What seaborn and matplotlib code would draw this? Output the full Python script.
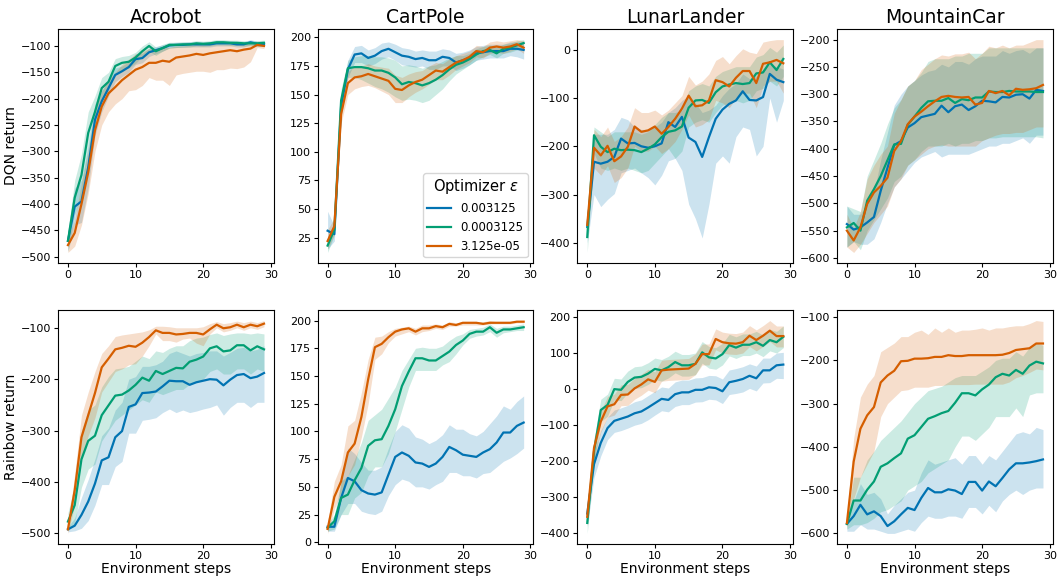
import pandas as pd
import matplotlib
matplotlib.use("Agg")
import matplotlib.pyplot as plt
import seaborn as sns
from matplotlib.ticker import MultipleLocator

steps = list(range(30))
eps_labels = ["0.003125", "0.0003125", "3.125e-05"]
envs = ["Acrobot", "CartPole", "LunarLander", "MountainCar"]
agents = ["DQN", "Rainbow"]

# ---- DQN ----
acro_dqn_a = [-470,-405,-395,-330,-240,-205,-180,-155,-148,-140,-125,-123,-112,-108,-104,-99,-98,-98,-97,-97,-97,-97,-95,-95,-95,-97,-97,-93,-96,-96]
acro_dqn_a_lo = [-490,-440,-435,-370,-270,-225,-195,-168,-158,-150,-135,-132,-120,-115,-110,-104,-103,-103,-102,-102,-102,-102,-100,-100,-100,-102,-102,-98,-101,-101]
acro_dqn_a_hi = [-450,-370,-355,-290,-210,-185,-165,-142,-138,-130,-115,-114,-104,-101,-98,-94,-93,-93,-92,-92,-92,-92,-90,-90,-90,-92,-92,-88,-91,-91]
acro_dqn_b = [-470,-388,-345,-265,-225,-180,-168,-138,-132,-130,-122,-110,-100,-110,-104,-98,-98,-97,-97,-95,-96,-95,-93,-93,-94,-94,-95,-95,-95,-94]
acro_dqn_b_lo = [-490,-420,-385,-300,-255,-200,-185,-152,-145,-142,-133,-120,-110,-118,-110,-104,-103,-102,-102,-100,-101,-100,-98,-98,-99,-99,-100,-100,-100,-99]
acro_dqn_b_hi = [-450,-355,-305,-225,-195,-160,-150,-124,-120,-118,-112,-100,-92,-102,-97,-93,-93,-92,-92,-90,-91,-90,-88,-88,-89,-89,-90,-90,-90,-89]
acro_dqn_c = [-478,-455,-400,-340,-260,-215,-190,-178,-165,-155,-145,-140,-132,-132,-128,-130,-122,-120,-118,-115,-117,-114,-112,-110,-108,-110,-107,-105,-98,-100]
acro_dqn_c_lo = [-492,-480,-440,-380,-300,-250,-225,-210,-200,-185,-183,-175,-160,-165,-165,-175,-155,-152,-150,-148,-148,-150,-145,-145,-142,-143,-140,-130,-103,-105]
acro_dqn_c_hi = [-464,-430,-360,-300,-225,-185,-165,-150,-135,-125,-115,-110,-105,-105,-102,-103,-100,-100,-98,-97,-97,-97,-96,-96,-96,-96,-95,-93,-93,-95]

cart_dqn_a = [31,28,140,172,185,186,182,184,188,190,187,184,183,181,182,180,180,183,182,178,180,182,186,187,188,188,188,190,190,189]
cart_dqn_a_lo = [15,22,130,165,178,178,175,177,181,183,180,176,175,174,175,172,172,175,175,171,173,176,180,181,182,182,182,184,183,181]
cart_dqn_a_hi = [48,35,150,180,192,193,189,191,195,196,194,191,190,188,189,188,188,190,189,186,187,189,192,193,194,194,194,196,196,196]
cart_dqn_b = [18,32,145,173,174,174,173,171,171,169,165,159,161,160,158,160,163,167,172,176,178,181,185,188,189,186,190,191,193,195]
cart_dqn_b_lo = [12,27,135,165,165,163,160,157,155,152,148,145,146,145,143,145,150,155,162,168,172,176,180,183,185,182,186,187,189,191]
cart_dqn_b_hi = [25,37,155,180,183,184,184,183,183,182,180,175,176,175,173,175,176,179,182,184,184,186,190,192,193,191,194,195,197,198]
cart_dqn_c = [22,35,133,160,165,166,168,166,164,162,155,154,158,161,163,167,171,170,174,178,180,183,188,187,191,192,191,192,194,191]
cart_dqn_c_lo = [15,28,125,150,155,157,158,156,153,150,143,143,148,152,155,159,163,163,167,172,175,178,183,182,186,187,186,188,190,186]
cart_dqn_c_hi = [32,42,140,170,175,175,177,175,174,173,167,165,168,170,171,175,178,177,181,184,186,188,193,192,196,197,196,197,198,197]

lunar_dqn_a = [-367,-232,-236,-232,-222,-184,-194,-193,-200,-203,-200,-194,-150,-160,-139,-182,-191,-222,-181,-143,-124,-112,-105,-86,-104,-105,-98,-50,-62,-67]
lunar_dqn_a_lo = [-400,-300,-325,-310,-298,-255,-250,-245,-255,-265,-280,-260,-230,-225,-250,-320,-350,-390,-320,-235,-220,-235,-180,-160,-165,-220,-200,-100,-150,-105]
lunar_dqn_a_hi = [-350,-175,-175,-175,-165,-140,-145,-160,-165,-165,-160,-150,-130,-120,-105,-95,-110,-130,-125,-115,-95,-80,-70,-50,-60,-55,-40,-30,-35,-40]
lunar_dqn_b = [-388,-177,-201,-212,-205,-208,-207,-208,-212,-205,-196,-181,-170,-167,-159,-120,-105,-104,-110,-88,-76,-72,-69,-71,-69,-49,-47,-26,-42,-19]
lunar_dqn_b_lo = [-420,-215,-245,-250,-245,-250,-245,-250,-255,-250,-235,-220,-205,-225,-210,-160,-150,-145,-150,-130,-115,-110,-105,-110,-105,-85,-80,-65,-75,-55]
lunar_dqn_b_hi = [-360,-160,-170,-180,-170,-170,-170,-170,-175,-170,-155,-140,-130,-130,-125,-85,-75,-70,-75,-55,-45,-40,-35,-35,-35,-15,-10,5,-5,10]
lunar_dqn_c = [-363,-203,-219,-199,-231,-221,-201,-159,-170,-167,-159,-174,-160,-143,-122,-95,-117,-115,-105,-63,-67,-76,-58,-44,-44,-69,-29,-26,-21,-28]
lunar_dqn_c_lo = [-390,-245,-260,-240,-275,-265,-245,-200,-210,-210,-200,-215,-205,-190,-165,-135,-160,-155,-145,-105,-110,-120,-100,-90,-90,-120,-75,-65,-65,-90]
lunar_dqn_c_hi = [-340,-165,-180,-160,-190,-180,-160,-120,-130,-130,-125,-135,-125,-110,-95,-55,-73,-65,-50,-22,-14,-29,-12,2,-5,-8,16,19,21,21]

mcar_dqn_a = [-538,-548,-544,-535,-525,-477,-435,-393,-386,-361,-353,-342,-339,-336,-321,-333,-322,-319,-329,-322,-312,-313,-315,-305,-306,-301,-300,-308,-292,-294]
mcar_dqn_a_lo = [-580,-570,-575,-575,-565,-535,-500,-470,-455,-440,-425,-415,-410,-405,-415,-410,-410,-410,-410,-405,-400,-395,-395,-390,-390,-385,-380,-390,-375,-375]
mcar_dqn_a_hi = [-505,-520,-520,-500,-480,-420,-370,-320,-300,-285,-275,-265,-258,-255,-245,-250,-240,-240,-245,-235,-230,-230,-230,-220,-225,-220,-218,-225,-215,-215]
mcar_dqn_b = [-544,-536,-550,-495,-474,-450,-421,-392,-391,-356,-341,-325,-313,-312,-312,-307,-316,-309,-311,-306,-306,-295,-296,-296,-294,-295,-295,-295,-296,-296]
mcar_dqn_b_lo = [-580,-570,-585,-550,-530,-510,-490,-460,-450,-430,-420,-405,-395,-395,-395,-390,-395,-390,-390,-385,-385,-380,-380,-378,-378,-378,-378,-378,-378,-380]
mcar_dqn_b_hi = [-505,-510,-515,-450,-420,-390,-355,-325,-310,-285,-275,-260,-240,-235,-235,-235,-230,-230,-225,-225,-225,-215,-215,-215,-215,-215,-215,-215,-215,-215]
mcar_dqn_c = [-550,-568,-544,-501,-480,-468,-453,-404,-386,-355,-341,-332,-322,-313,-305,-303,-305,-306,-305,-319,-316,-294,-298,-294,-302,-290,-292,-291,-289,-283]
mcar_dqn_c_lo = [-580,-590,-575,-555,-535,-520,-505,-470,-455,-430,-420,-410,-400,-395,-393,-395,-395,-395,-395,-395,-385,-380,-375,-372,-372,-370,-370,-365,-360,-360]
mcar_dqn_c_hi = [-520,-545,-515,-455,-430,-410,-395,-335,-310,-285,-275,-255,-245,-235,-228,-230,-226,-226,-223,-235,-225,-212,-215,-210,-215,-210,-210,-205,-200,-200]

# ---- Rainbow ----
acro_rb_a = [-492,-485,-464,-438,-403,-358,-352,-313,-301,-254,-249,-227,-226,-224,-214,-203,-204,-204,-211,-206,-203,-200,-201,-212,-201,-192,-190,-198,-195,-188]
acro_rb_a_lo = [-497,-495,-490,-475,-445,-405,-405,-370,-360,-305,-305,-280,-278,-275,-265,-258,-265,-260,-265,-262,-258,-255,-250,-270,-255,-245,-245,-255,-245,-245]
acro_rb_a_hi = [-487,-470,-430,-395,-355,-310,-295,-260,-245,-200,-195,-175,-175,-172,-165,-150,-145,-150,-155,-150,-148,-145,-145,-155,-148,-140,-138,-145,-142,-135]
acro_rb_b = [-477,-445,-356,-320,-310,-270,-251,-232,-230,-222,-211,-197,-203,-184,-190,-184,-178,-179,-166,-162,-156,-140,-136,-146,-144,-134,-134,-144,-136,-142]
acro_rb_b_lo = [-495,-480,-410,-375,-365,-320,-300,-280,-270,-260,-250,-240,-245,-225,-230,-225,-220,-220,-210,-205,-200,-185,-180,-190,-190,-180,-180,-190,-180,-185]
acro_rb_b_hi = [-460,-405,-300,-260,-250,-215,-195,-180,-178,-175,-165,-155,-160,-145,-148,-140,-135,-135,-125,-120,-118,-113,-110,-115,-112,-110,-110,-112,-110,-112]
acro_rb_c = [-492,-416,-313,-270,-227,-177,-160,-142,-139,-135,-137,-129,-118,-105,-110,-110,-113,-112,-110,-110,-113,-103,-94,-101,-99,-94,-99,-94,-97,-92]
acro_rb_c_lo = [-500,-445,-355,-310,-275,-225,-205,-185,-180,-172,-170,-155,-135,-112,-125,-125,-128,-122,-120,-130,-135,-112,-100,-108,-105,-100,-105,-100,-103,-98]
acro_rb_c_hi = [-485,-385,-270,-225,-185,-150,-135,-117,-114,-112,-110,-108,-104,-97,-97,-98,-100,-100,-100,-100,-98,-92,-88,-92,-90,-87,-90,-87,-90,-86]

cart_rb_a = [14,14,40,58,55,47,44,43,45,61,77,81,78,72,71,68,71,77,86,83,79,78,77,81,84,90,99,99,105,108]
cart_rb_a_lo = [10,10,25,35,35,28,26,25,28,42,52,57,55,50,50,48,52,55,63,63,60,60,58,62,63,68,73,76,80,85]
cart_rb_a_hi = [18,18,55,85,80,72,65,65,68,85,100,106,103,95,93,89,92,97,106,102,102,98,96,100,107,114,123,120,127,132]
cart_rb_b = [13,19,40,43,56,67,87,92,93,105,120,141,154,166,166,164,164,168,172,178,182,188,190,190,194,189,192,192,193,194]
cart_rb_b_lo = [10,12,25,25,40,45,60,68,68,80,100,120,140,155,155,155,155,160,163,170,178,184,186,187,190,185,189,190,191,191]
cart_rb_b_hi = [16,25,55,60,75,90,110,115,120,130,140,155,165,175,176,175,175,177,182,186,188,192,193,194,197,193,195,195,196,197]
cart_rb_c = [12,41,55,81,89,113,147,176,179,185,190,192,193,190,193,193,195,194,197,196,198,198,198,197,198,198,198,198,199,199]
cart_rb_c_lo = [8,30,45,60,70,95,125,165,170,180,186,188,190,187,190,191,193,192,195,195,196,196,196,196,197,197,197,197,198,198]
cart_rb_c_hi = [18,55,70,105,110,135,165,185,186,190,193,194,195,193,196,196,197,196,199,198,199,199,199,199,200,199,199,199,200,200]

lunar_rb_a = [-345,-208,-149,-108,-88,-82,-76,-67,-62,-51,-39,-27,-30,-14,-9,-9,-2,-2,5,3,-6,19,23,28,37,30,52,52,66,68]
lunar_rb_a_lo = [-380,-245,-185,-140,-120,-115,-108,-100,-95,-85,-72,-60,-63,-48,-43,-43,-36,-35,-28,-30,-40,-15,-12,-8,2,-5,17,18,30,29]
lunar_rb_a_hi = [-315,-175,-115,-78,-58,-52,-45,-35,-30,-18,-6,6,3,20,25,25,31,32,38,37,28,53,57,62,70,64,86,86,100,102]
lunar_rb_b = [-371,-172,-58,-44,0,-2,20,32,34,43,56,52,61,75,66,66,70,102,88,85,97,122,115,123,123,130,120,136,130,145]
lunar_rb_b_lo = [-400,-205,-90,-75,-30,-32,-10,2,4,13,26,22,31,45,36,36,40,72,58,55,67,92,85,93,93,100,90,106,100,115]
lunar_rb_b_hi = [-340,-140,-28,-14,30,28,50,62,64,73,86,82,91,105,96,96,100,132,118,115,127,152,145,153,153,160,150,166,160,175]
lunar_rb_c = [-354,-163,-90,-48,-42,-16,-15,2,13,27,20,52,54,55,56,57,70,97,97,139,130,127,126,130,148,136,148,162,147,147]
lunar_rb_c_lo = [-380,-195,-120,-78,-72,-46,-45,-28,-17,-3,-10,22,24,25,26,27,40,67,67,109,100,97,96,100,118,106,118,132,117,117]
lunar_rb_c_hi = [-330,-135,-62,-20,-14,12,13,30,41,55,48,80,82,83,84,85,98,125,125,167,158,155,154,158,176,164,176,190,175,175]

mcar_rb_a = [-578,-560,-534,-556,-549,-560,-583,-572,-556,-541,-546,-518,-495,-505,-505,-498,-501,-509,-481,-481,-501,-480,-491,-472,-452,-438,-438,-436,-433,-429]
mcar_rb_a_lo = [-595,-595,-580,-590,-590,-595,-600,-600,-595,-590,-595,-575,-560,-565,-565,-560,-560,-565,-540,-540,-555,-535,-550,-525,-510,-500,-510,-500,-495,-495]
mcar_rb_a_hi = [-565,-525,-485,-510,-505,-520,-555,-535,-520,-505,-500,-460,-430,-440,-435,-430,-425,-440,-420,-420,-440,-420,-430,-410,-390,-370,-365,-370,-355,-360]
mcar_rb_b = [-578,-524,-524,-499,-480,-446,-438,-426,-415,-381,-373,-354,-335,-329,-322,-317,-298,-276,-276,-281,-267,-256,-239,-231,-235,-222,-231,-212,-203,-207]
mcar_rb_b_lo = [-590,-580,-580,-575,-565,-550,-545,-535,-525,-500,-490,-480,-460,-450,-440,-430,-400,-375,-375,-385,-370,-355,-330,-330,-330,-310,-330,-280,-275,-275]
mcar_rb_b_hi = [-565,-470,-470,-430,-410,-385,-370,-355,-340,-320,-300,-285,-270,-265,-260,-250,-240,-235,-235,-235,-225,-215,-200,-195,-195,-180,-190,-170,-160,-165]
mcar_rb_c = [-576,-434,-358,-327,-308,-251,-235,-224,-202,-201,-196,-196,-195,-192,-192,-188,-190,-190,-188,-188,-188,-188,-188,-187,-183,-176,-174,-172,-161,-161]
mcar_rb_c_lo = [-590,-520,-470,-440,-410,-330,-300,-285,-270,-268,-262,-262,-262,-258,-258,-256,-256,-256,-256,-255,-255,-255,-255,-255,-250,-240,-235,-228,-220,-222]
mcar_rb_c_hi = [-560,-380,-285,-255,-235,-180,-170,-160,-145,-145,-135,-130,-140,-125,-135,-125,-135,-130,-130,-128,-125,-130,-125,-125,-122,-120,-120,-115,-108,-110]

# (mean, lo, hi) per optimizer eps, for every panel
curves = {
    ("DQN", "Acrobot"): [(acro_dqn_a, acro_dqn_a_lo, acro_dqn_a_hi), (acro_dqn_b, acro_dqn_b_lo, acro_dqn_b_hi), (acro_dqn_c, acro_dqn_c_lo, acro_dqn_c_hi)],
    ("DQN", "CartPole"): [(cart_dqn_a, cart_dqn_a_lo, cart_dqn_a_hi), (cart_dqn_b, cart_dqn_b_lo, cart_dqn_b_hi), (cart_dqn_c, cart_dqn_c_lo, cart_dqn_c_hi)],
    ("DQN", "LunarLander"): [(lunar_dqn_a, lunar_dqn_a_lo, lunar_dqn_a_hi), (lunar_dqn_b, lunar_dqn_b_lo, lunar_dqn_b_hi), (lunar_dqn_c, lunar_dqn_c_lo, lunar_dqn_c_hi)],
    ("DQN", "MountainCar"): [(mcar_dqn_a, mcar_dqn_a_lo, mcar_dqn_a_hi), (mcar_dqn_b, mcar_dqn_b_lo, mcar_dqn_b_hi), (mcar_dqn_c, mcar_dqn_c_lo, mcar_dqn_c_hi)],
    ("Rainbow", "Acrobot"): [(acro_rb_a, acro_rb_a_lo, acro_rb_a_hi), (acro_rb_b, acro_rb_b_lo, acro_rb_b_hi), (acro_rb_c, acro_rb_c_lo, acro_rb_c_hi)],
    ("Rainbow", "CartPole"): [(cart_rb_a, cart_rb_a_lo, cart_rb_a_hi), (cart_rb_b, cart_rb_b_lo, cart_rb_b_hi), (cart_rb_c, cart_rb_c_lo, cart_rb_c_hi)],
    ("Rainbow", "LunarLander"): [(lunar_rb_a, lunar_rb_a_lo, lunar_rb_a_hi), (lunar_rb_b, lunar_rb_b_lo, lunar_rb_b_hi), (lunar_rb_c, lunar_rb_c_lo, lunar_rb_c_hi)],
    ("Rainbow", "MountainCar"): [(mcar_rb_a, mcar_rb_a_lo, mcar_rb_a_hi), (mcar_rb_b, mcar_rb_b_lo, mcar_rb_b_hi), (mcar_rb_c, mcar_rb_c_lo, mcar_rb_c_hi)],
}
ytick_step = {
    ("DQN", "Acrobot"): 50, ("DQN", "CartPole"): 25, ("DQN", "LunarLander"): 100, ("DQN", "MountainCar"): 50,
    ("Rainbow", "Acrobot"): 100, ("Rainbow", "CartPole"): 25, ("Rainbow", "LunarLander"): 100, ("Rainbow", "MountainCar"): 100,
}

cb = sns.color_palette("colorblind")
colors = [cb[0], cb[2], cb[3]]

fig, axes = plt.subplots(2, 4, figsize=(10.57, 5.8), dpi=100)
fig.subplots_adjust(left=0.055, right=0.996, bottom=0.062, top=0.95, wspace=0.204, hspace=0.20)

for i, agent in enumerate(agents):
    for j, env in enumerate(envs):
        ax = axes[i, j]
        rows = []
        for k, (mean, lo, hi) in enumerate(curves[(agent, env)]):
            ax.fill_between(steps, lo, hi, color=colors[k], alpha=0.2, linewidth=0)
            for s, v in zip(steps, mean):
                rows.append({"step": s, "ret": v, "eps": eps_labels[k]})
        df = pd.DataFrame(rows)
        show_leg = (agent == "DQN" and env == "CartPole")
        sns.lineplot(data=df, x="step", y="ret", hue="eps", hue_order=eps_labels,
                     palette=colors, linewidth=1.6, errorbar=None, ax=ax, legend=show_leg)
        if show_leg:
            sns.move_legend(ax, "lower right", title="Optimizer $\\epsilon$",
                            fontsize=8.5, title_fontsize=10.5, borderpad=0.35)
        ax.xaxis.set_major_locator(MultipleLocator(10))
        ax.yaxis.set_major_locator(MultipleLocator(ytick_step[(agent, env)]))
        ax.tick_params(labelsize=8, length=3, pad=2)
        if i == 0:
            ax.set_title(env, fontsize=13.5, pad=4)
            ax.set_xlabel("")
        else:
            ax.set_xlabel("Environment steps", fontsize=10, labelpad=1)
        if j == 0:
            ax.set_ylabel(agent + " return", fontsize=10, labelpad=2)
        else:
            ax.set_ylabel("")

fig.savefig("out.png", dpi=100)
